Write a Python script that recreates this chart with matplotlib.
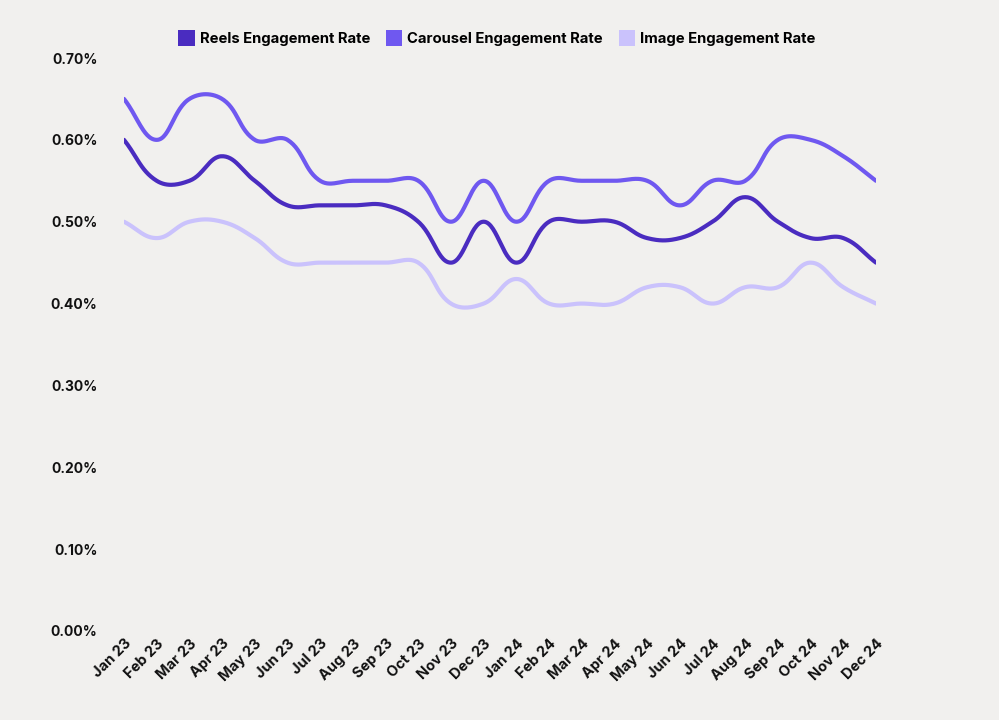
import numpy as np
import matplotlib
matplotlib.use("Agg")
import matplotlib.pyplot as plt
from matplotlib.patches import Patch

months = ["Jan 23", "Feb 23", "Mar 23", "Apr 23", "May 23", "Jun 23", "Jul 23", "Aug 23",
          "Sep 23", "Oct 23", "Nov 23", "Dec 23", "Jan 24", "Feb 24", "Mar 24", "Apr 24",
          "May 24", "Jun 24", "Jul 24", "Aug 24", "Sep 24", "Oct 24", "Nov 24", "Dec 24"]
reels = [0.60, 0.55, 0.55, 0.58, 0.55, 0.52, 0.52, 0.52, 0.52, 0.50, 0.45, 0.50,
         0.45, 0.50, 0.50, 0.50, 0.48, 0.48, 0.50, 0.53, 0.50, 0.48, 0.48, 0.45]
carousel = [0.65, 0.60, 0.65, 0.65, 0.60, 0.60, 0.55, 0.55, 0.55, 0.55, 0.50, 0.55,
            0.50, 0.55, 0.55, 0.55, 0.55, 0.52, 0.55, 0.55, 0.60, 0.60, 0.58, 0.55]
image = [0.50, 0.48, 0.50, 0.50, 0.48, 0.45, 0.45, 0.45, 0.45, 0.45, 0.40, 0.40,
         0.43, 0.40, 0.40, 0.40, 0.42, 0.42, 0.40, 0.42, 0.42, 0.45, 0.42, 0.40]
yticks = [0.0, 0.1, 0.2, 0.3, 0.4, 0.5, 0.6, 0.7]

series = [("Reels Engagement Rate", reels, "#4a2cc0"),
          ("Carousel Engagement Rate", carousel, "#6f58f0"),
          ("Image Engagement Rate", image, "#cac2fc")]

AX_L, AX_R, AX_T, AX_B = 124, 876, 58, 631
YMAX = 0.7


def spline_curve(y, tension=0.4, n=30):
    """Chart.js-style cardinal bezier, computed in pixel space."""
    y = np.asarray(y, float)
    N = len(y)
    sx = (AX_R - AX_L) / (N - 1)
    sy = (AX_B - AX_T) / YMAX
    P = np.column_stack([np.arange(N) * sx, y * sy])
    cp_prev = P.copy()
    cp_next = P.copy()
    for i in range(N):
        prev = P[i - 1] if i > 0 else P[i]
        nxt = P[i + 1] if i < N - 1 else P[i]
        cur = P[i]
        d01 = np.hypot(*(cur - prev))
        d12 = np.hypot(*(nxt - cur))
        tot = d01 + d12
        s01 = d01 / tot if tot else 0
        s12 = d12 / tot if tot else 0
        fa, fb = tension * s01, tension * s12
        cp_prev[i] = cur - fa * (nxt - prev)
        cp_next[i] = cur + fb * (nxt - prev)
    pts = []
    for i in range(N - 1):
        t = np.linspace(0, 1, n, endpoint=(i == N - 2))[:, None]
        b = ((1 - t) ** 3 * P[i] + 3 * (1 - t) ** 2 * t * cp_next[i]
             + 3 * (1 - t) * t ** 2 * cp_prev[i + 1] + t ** 3 * P[i + 1])
        pts.append(b)
    pts = np.vstack(pts)
    return pts[:, 0] / sx, pts[:, 1] / sy


plt.rcParams['font.family'] = ['Inter', 'DejaVu Sans']
bg = "#f1f0ee"
fig = plt.figure(figsize=(9.99, 7.2), dpi=100, facecolor=bg)
ax = fig.add_axes([AX_L / 999, 1 - AX_B / 720, (AX_R - AX_L) / 999, (AX_B - AX_T) / 720])
ax.set_facecolor(bg)

for name, vals, col in series:
    xs, ys = spline_curve(vals)
    ax.plot(xs, ys, color=col, lw=3.0, solid_capstyle='round', solid_joinstyle='round', label=name)

ax.set_xlim(0, len(months) - 1)
ax.set_ylim(0, YMAX)
ax.set_yticks(yticks)
ax.set_yticklabels([f"{v:.2f}%" for v in yticks], fontsize=10, fontweight='bold', color="#111111")
ax.set_xticks(range(len(months)))
ax.set_xticklabels(months, rotation=45, ha='right', rotation_mode='anchor',
                   fontsize=10.5, fontweight='bold', color="#111111")
ax.tick_params(axis='y', length=0, pad=19)
ax.tick_params(axis='x', length=0, pad=4)
for sp in ax.spines.values():
    sp.set_visible(False)

handles = [Patch(facecolor=c, edgecolor='none', label=n) for n, _, c in series]
fig.legend(handles=handles, loc='center', bbox_to_anchor=(497 / 999, 1 - 38 / 720), ncol=3,
           frameon=False, handlelength=1.1, handleheight=1.3,
           handletextpad=0.35, columnspacing=1.05, prop={'weight': 'bold', 'size': 10.7})

fig.savefig("out.png", dpi=100, facecolor=bg)
